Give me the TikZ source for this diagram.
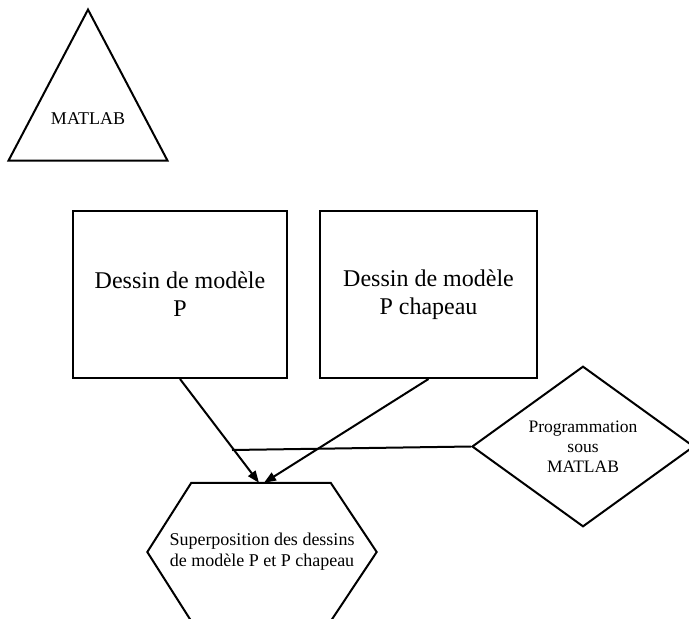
\documentclass[tikz,border=0pt]{standalone}
\usepackage{fontspec}
\setmainfont{Liberation Serif}
\usetikzlibrary{positioning,arrows.meta,shapes.geometric}

\begin{document}
\begin{tikzpicture}[x=1pt, y=-1pt,
    tri/.style={isosceles triangle, isosceles triangle stretches, shape border rotate=90,
              draw=black, line width=2pt, minimum width=159pt, minimum height=151pt,
              inner sep=0pt},
    bx/.style={rectangle, draw=black, line width=2pt, minimum width=214pt,
              minimum height=167pt, align=center, font=\fontsize{24}{28}\selectfont},
    dm/.style={diamond, draw=black, line width=2pt, minimum width=222pt,
              minimum height=157pt, inner sep=0pt, align=center, font=\fontsize{17.5}{20}\selectfont},
    hx/.style={rectangle, minimum width=229pt, minimum height=138pt,
              inner sep=0pt, align=center, font=\fontsize{18}{21}\selectfont},
    a/.style={-{Triangle[length=12pt, width=9pt]}, line width=2pt}
]
    \useasboundingbox (0,0) rectangle (689,619);
    \node[tri, anchor=apex, label={[font=\fontsize{18}{20}\selectfont, yshift=-6pt]center:MATLAB}] (mat) at (88,7) {};
    \node[bx] (pm) at (180,294.5) {Dessin de modèle\\P};
    \node[bx, right=31pt of pm, minimum width=217pt] (pc) {Dessin de modèle\\P chapeau};
    \node[dm] (prog) at (583,446.5) {Programmation\\sous\\MATLAB};
    \node[hx] (sup) at (262,552) {Superposition des dessins\\de modèle P et P chapeau};
    \draw[line width=2pt] ([xshift=44pt]sup.north west) -- ([xshift=-46pt]sup.north east) -- (sup.east)
        -- ([xshift=-46pt]sup.south east) -- ([xshift=44pt]sup.south west) -- (sup.west) -- cycle;
    \coordinate (tap) at (232,450);
    \draw[line width=2pt] (prog.west) -- (tap);
    \draw[a] (pm.south) -- ([xshift=-3pt]sup.north);
    \draw[a] (pc.south) -- ([xshift=2pt]sup.north);
\end{tikzpicture}
\end{document}
